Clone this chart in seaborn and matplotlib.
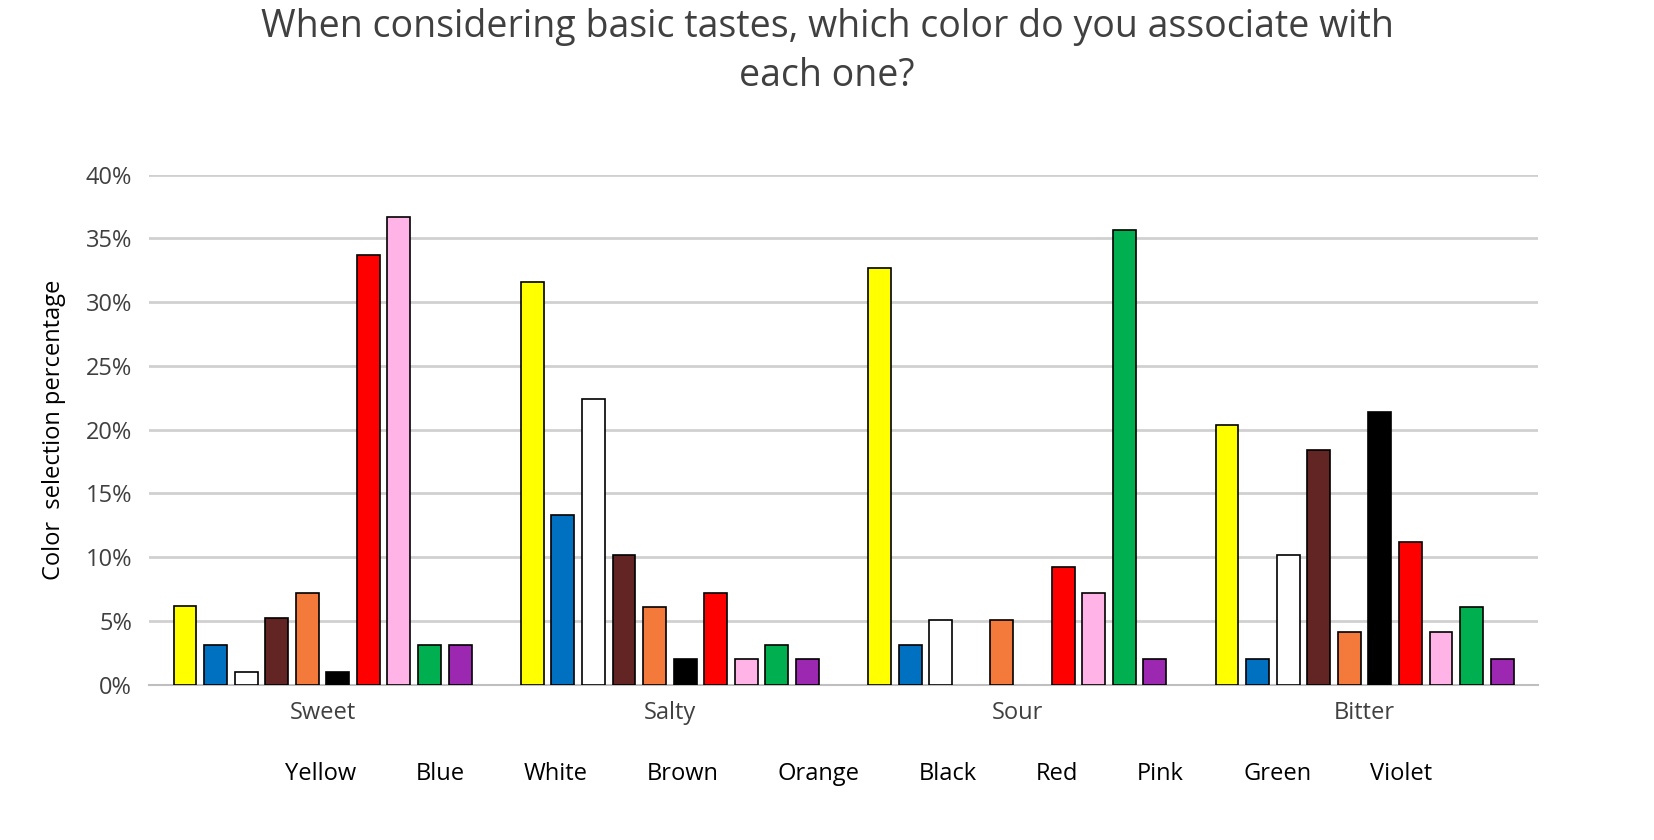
import matplotlib
matplotlib.use("Agg")
import matplotlib.pyplot as plt
import seaborn as sns
import pandas as pd
from matplotlib.ticker import PercentFormatter, MultipleLocator

tastes = ["Sweet", "Salty", "Sour", "Bitter"]
colors_names = ["Yellow", "Blue", "White", "Brown", "Orange", "Black", "Red", "Pink", "Green", "Violet"]
sweet = [6.2, 3.1, 1.0, 5.2, 7.2, 1.0, 33.7, 36.7, 3.1, 3.1]
salty = [31.6, 13.3, 22.4, 10.2, 6.1, 2.0, 7.2, 2.0, 3.1, 2.0]
sour = [32.7, 3.1, 5.1, 0.0, 5.1, 0.0, 9.2, 7.2, 35.7, 2.0]
bitter = [20.4, 2.0, 10.2, 18.4, 4.1, 21.4, 11.2, 4.1, 6.1, 2.0]
palette = ["#FFFF00", "#0070C0", "#FFFFFF", "#632523", "#F47A3C", "#000000",
           "#FF0000", "#FFB3E6", "#00B050", "#9C27B0"]

rows = []
for t, vals in zip(tastes, [sweet, salty, sour, bitter]):
    for c, v in zip(colors_names, vals):
        rows.append({"Taste": t, "Color": c, "Value": v})
df = pd.DataFrame(rows)

plt.rcParams["font.family"] = "Open Sans"
fig = plt.figure(figsize=(16.54, 8.4), dpi=100)
ax = fig.add_axes([0.09, 0.185, 0.84, 0.607])
sns.barplot(data=df, x="Taste", y="Value", hue="Color", hue_order=colors_names,
            palette=palette, saturation=1, edgecolor="black", linewidth=1.2,
            width=0.88, gap=0.25, ax=ax, zorder=3)
for p in ax.patches:
    if p.get_height() == 0:
        p.set_visible(False)
ax.set_ylim(0, 40)
ax.yaxis.set_major_locator(MultipleLocator(5))
ax.yaxis.set_major_formatter(PercentFormatter(decimals=0))
ax.grid(axis="y", color="#D0D0D0", linewidth=2, zorder=0)
ax.set_axisbelow(True)
for s in ["top", "right", "left"]:
    ax.spines[s].set_visible(False)
ax.spines["bottom"].set_color("#BFBFBF")
ax.spines["bottom"].set_linewidth(1.5)
ax.tick_params(axis="both", length=0, labelsize=17, colors="#404040", pad=12)
ax.set_xlabel("")
ax.set_ylabel("Color  selection percentage", fontsize=17, color="black", labelpad=14)
ax.set_xlim(-0.5, 3.5)
ax.legend(loc="upper center", bbox_to_anchor=(0.5, -0.11), ncol=10, frameon=False,
          fontsize=17, handlelength=0.9, handleheight=0.9, columnspacing=1.2, handletextpad=0.4)
fig.suptitle("When considering basic tastes, which color do you associate with\neach one?",
             fontsize=27, color="#404040", y=0.99, linespacing=1.35)
fig.savefig("out.png", dpi=100, facecolor="white")
